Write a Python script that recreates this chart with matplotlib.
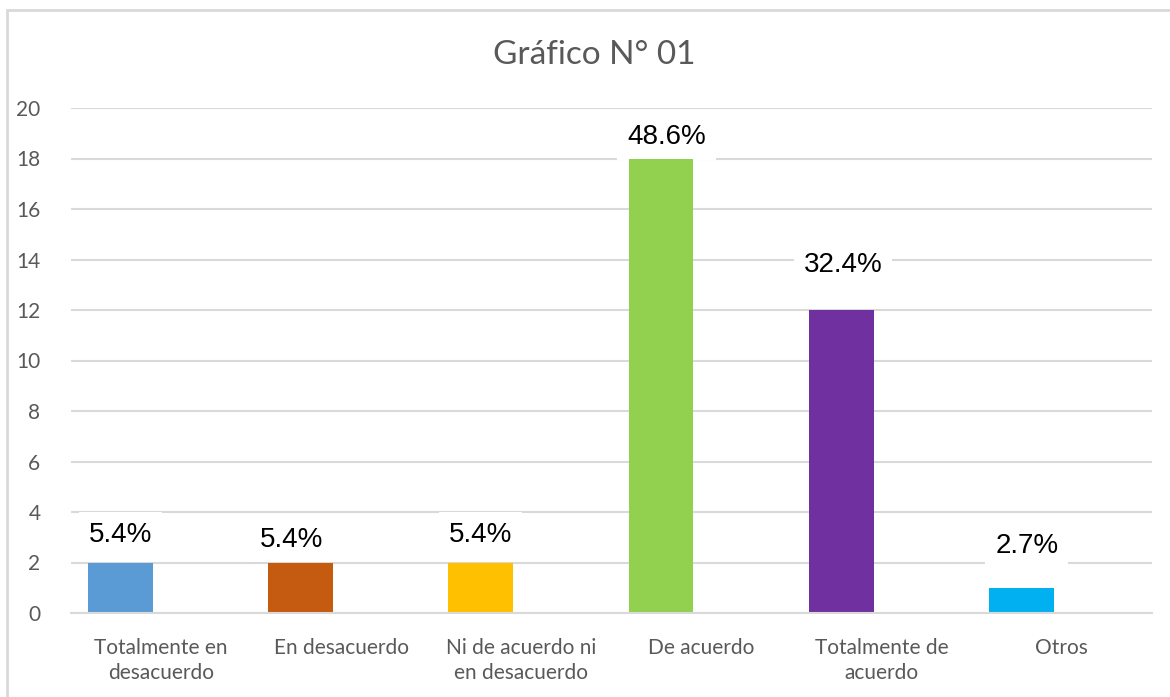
import matplotlib

matplotlib.use("Agg")
import matplotlib.pyplot as plt
from matplotlib.patches import Rectangle

categories = [
    "Totalmente en\ndesacuerdo",
    "En desacuerdo",
    "Ni de acuerdo ni\nen desacuerdo",
    "De acuerdo",
    "Totalmente de\nacuerdo",
    "Otros",
]
counts = [2, 2, 2, 18, 12, 1]
percent_labels = ["5.4%", "5.4%", "5.4%", "48.6%", "32.4%", "2.7%"]
bar_colors = ["#5B9BD5", "#C55A11", "#FFC000", "#92D050", "#7030A0", "#00B0F0"]

# label placement (data units above bar top, x shift in category units)
label_dy = [1.1, 0.9, 1.1, 0.85, 1.8, 1.65]
label_dx = [0.0, -0.05, 0.0, 0.03, 0.01, 0.03]

GRID = "#D9D9D9"
TEXT = "#595959"

fig = plt.figure(figsize=(11.7, 6.97), dpi=100)
ax = fig.add_axes([71 / 1170, 1 - 613 / 697, 1081 / 1170, 505 / 697])

x = list(range(len(categories)))
bar_x = [i - 0.225 for i in x]
ax.bar(bar_x, counts, width=0.36, color=bar_colors, zorder=2)

ax.set_xlim(-0.5, len(categories) - 0.5)
ax.set_ylim(0, 20)
ax.set_yticks(range(0, 21, 2))
ax.set_xticks(x)
ax.set_xticklabels(categories, fontfamily="Lato", fontsize=15, color=TEXT, linespacing=1.3)
for lbl in ax.get_yticklabels():
    lbl.set_fontfamily("Lato")
    lbl.set_fontsize(15)
    lbl.set_color(TEXT)
ax.tick_params(axis="both", length=0)
ax.tick_params(axis="y", pad=22)
ax.tick_params(axis="x", pad=18)

ax.grid(axis="y", color=GRID, linewidth=1.5, zorder=0)
ax.set_axisbelow(True)
for side in ["left", "right", "top"]:
    ax.spines[side].set_visible(False)
ax.spines["bottom"].set_color(GRID)
ax.spines["bottom"].set_linewidth(1.5)

# white label boxes sit under the bars, so they only mask the gridlines
for i, (val, txt) in enumerate(zip(counts, percent_labels)):
    ax.text(
        bar_x[i] + label_dx[i],
        val + label_dy[i],
        txt,
        ha="center",
        va="center",
        fontsize=20,
        fontfamily="Liberation Sans",
        color="black",
        zorder=1.5,
        bbox=dict(boxstyle="square,pad=0.35", facecolor="white", edgecolor="none"),
    )

fig.text(594 / 1170, 1 - 55 / 697, "Gráfico N° 01", ha="center", va="center",
         fontsize=24, fontfamily="Lato", color=TEXT)

# chart area border (right and bottom edges fall outside the image)
fig.patches.append(Rectangle((7 / 1170, -0.05), 1.1, 1 - 10 / 697 + 0.05,
                             transform=fig.transFigure, fill=False,
                             edgecolor=GRID, linewidth=2))

fig.savefig("out.png", dpi=100)
plt.close(fig)
